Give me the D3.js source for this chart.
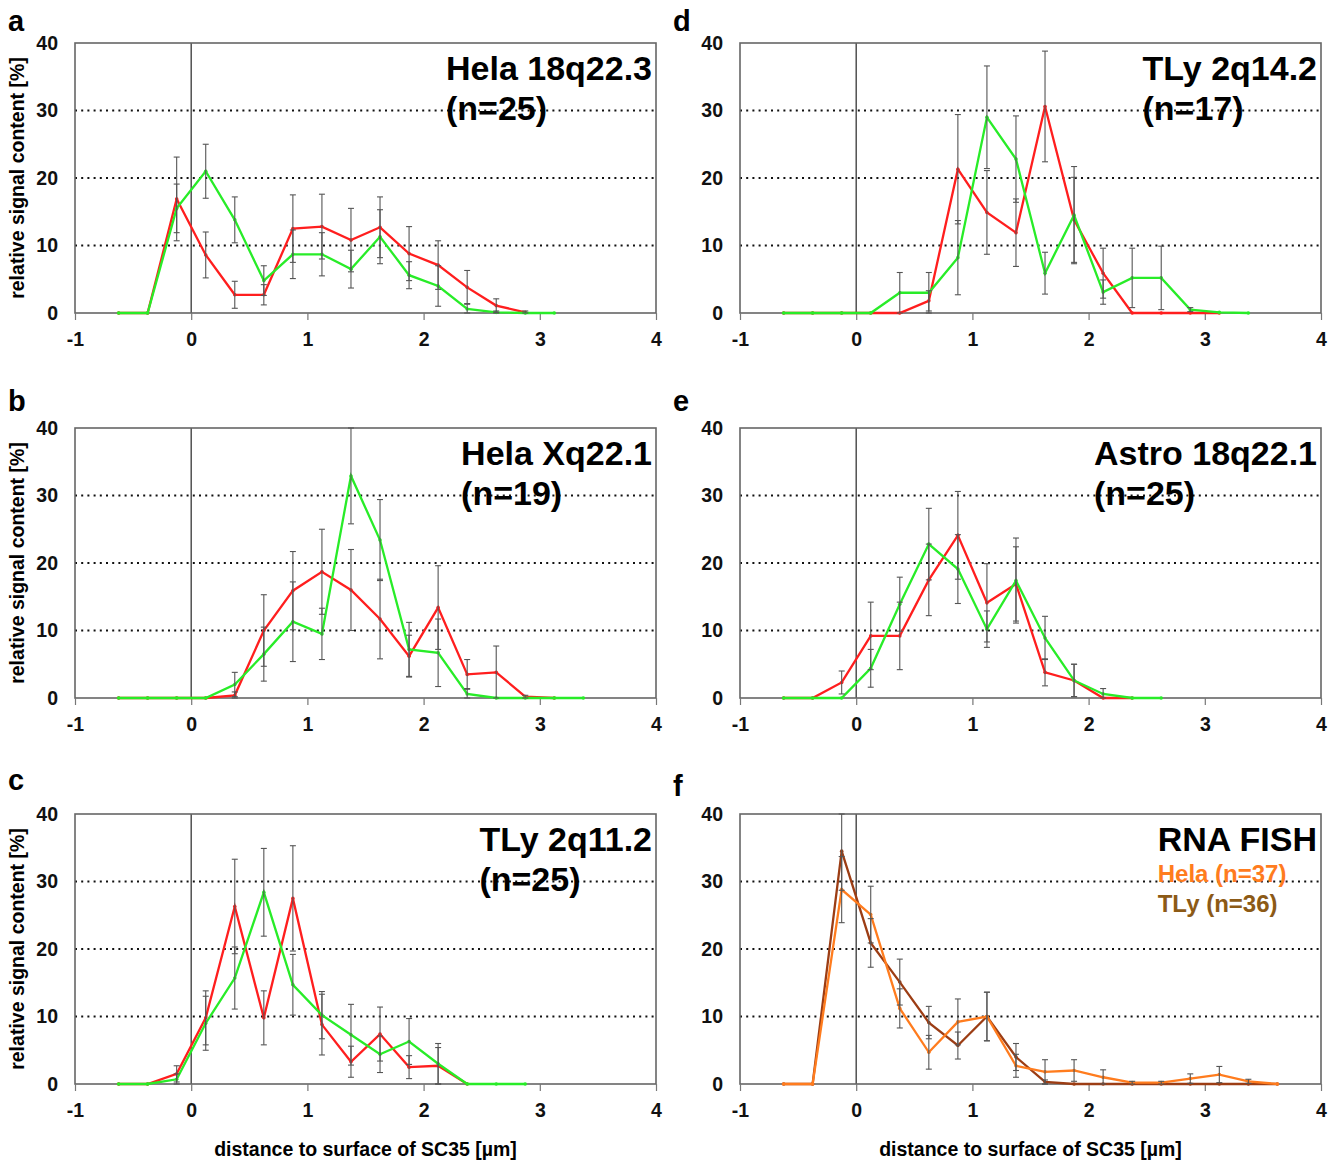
<!DOCTYPE html>
<html>
<head>
<meta charset="utf-8">
<script src="https://cdn.jsdelivr.net/npm/d3@7"></script>
<style>
  body { margin: 0; background: #fff; }
  text { font-family: "Liberation Sans", Arial, sans-serif; font-weight: bold; }
</style>
</head>
<body>
<div id="container"></div>
<script>
const width = 1336;
const height = 1161;

// bin centres (µm) shared by all panels
const xBins = [-0.625, -0.375, -0.125, 0.125, 0.375, 0.625, 0.875, 1.125, 1.375,
               1.625, 1.875, 2.125, 2.375, 2.625, 2.875, 3.125, 3.375, 3.625];
const xTicks = [-1, 0, 1, 2, 3, 4];
const yTicks = [0, 10, 20, 30, 40];
const gridTicks = [10, 20, 30];

// a: Hela 18q22.3
const aRed      = [0, 0, 16.9, 8.6, 2.7, 2.7, 12.5, 12.8, 10.8, 12.7, 8.8, 7.1, 3.8, 1.1, 0.1];
const aRedErr   = [0, 0, 6.2, 3.4, 2.0, 1.5, 5.0, 4.8, 4.7, 4.5, 4.0, 3.6, 2.5, 1.0, 0.2];
const aGreen    = [0, 0, 15.5, 21.0, 13.8, 4.8, 8.7, 8.7, 6.5, 11.3, 5.6, 4.0, 0.6, 0.1, 0, 0];
const aGreenErr = [0, 0, 3.6, 4.0, 3.4, 2.2, 3.6, 3.2, 2.8, 4.0, 2.0, 3.0, 0.8, 0.2, 0, 0];

// b: Hela Xq22.1
const bRed      = [0, 0, 0, 0, 0.4, 10.0, 15.9, 18.7, 16.0, 11.7, 6.2, 13.4, 3.5, 3.8, 0.2, 0];
const bRedErr   = [0, 0, 0, 0, 0.5, 5.3, 5.8, 6.3, 6.0, 5.9, 3.1, 6.2, 2.2, 3.9, 0.2, 0];
const bGreen    = [0, 0, 0, 0, 2.0, 6.5, 11.3, 9.5, 32.9, 23.4, 7.2, 6.7, 0.6, 0, 0, 0, 0];
const bGreenErr = [0, 0, 0, 0, 1.8, 4.0, 5.9, 3.8, 7.1, 6.0, 4.0, 5.0, 0.8, 0, 0, 0, 0];

// c: TLy 2q11.2
const cRed      = [0, 0, 1.5, 9.8, 26.3, 9.8, 27.5, 8.8, 3.3, 7.4, 2.5, 2.7, 0];
const cRedErr   = [0, 0, 1.2, 4.0, 7.0, 4.0, 7.8, 4.5, 2.3, 4.0, 1.7, 2.7, 0];
const cGreen    = [0, 0, 0.7, 9.0, 15.7, 28.4, 14.7, 10.2, 7.3, 4.4, 6.3, 3.0, 0, 0, 0];
const cGreenErr = [0, 0, 0.8, 4.0, 4.6, 6.5, 4.5, 3.5, 4.5, 2.7, 3.4, 3.0, 0, 0, 0];

// d: TLy 2q14.2
const dRed      = [0, 0, 0, 0, 0, 1.8, 21.3, 14.9, 11.9, 30.6, 13.8, 5.9, 0, 0, 0, 0];
const dRedErr   = [0, 0, 0, 0, 0, 1.5, 8.1, 6.2, 5.0, 8.2, 6.3, 3.7, 0, 0, 0, 0];
const dGreen    = [0, 0, 0, 0, 3.0, 3.0, 8.2, 29.0, 22.8, 5.9, 14.5, 3.1, 5.2, 5.2, 0.5, 0.1, 0];
const dGreenErr = [0, 0, 0, 0, 3.0, 3.0, 5.5, 7.6, 6.4, 3.1, 7.2, 1.8, 4.4, 4.7, 0.3, 0, 0];

// e: Astro 18q22.1
const eRed      = [0, 0, 2.3, 9.2, 9.2, 17.5, 24.1, 14.1, 16.9, 3.8, 2.6, 0, 0];
const eRedErr   = [0, 0, 1.7, 5.0, 5.0, 5.3, 6.5, 5.8, 5.5, 2.0, 2.4, 0, 0];
const eGreen    = [0, 0, 0, 4.4, 13.9, 22.8, 19.1, 10.2, 17.4, 8.9, 2.6, 0.6, 0, 0];
const eGreenErr = [0, 0, 0, 2.8, 4.0, 5.3, 5.1, 2.7, 6.3, 3.2, 2.4, 0.8, 0, 0];

// f: RNA FISH
const fHela     = [0, 0, 28.8, 25.1, 11.2, 4.7, 9.2, 10.0, 2.7, 1.8, 2.0, 1.0, 0.2, 0.2, 0.8, 1.4, 0.4, 0];
const fHelaErr  = [0, 0, 4.9, 4.2, 2.9, 2.5, 3.4, 3.6, 1.7, 1.8, 1.6, 1.1, 0.2, 0.2, 0.7, 1.2, 0.3, 0];
const fTLy      = [0, 0, 34.5, 20.9, 15.1, 9.1, 5.7, 10.0, 4.0, 0.3, 0, 0, 0, 0, 0, 0, 0, 0];
const fTLyErr   = [0, 0, 5.8, 3.6, 3.4, 2.4, 2.0, 3.6, 2.0, 0.3, 0.1, 0, 0, 0, 0, 0, 0, 0];

const red = "#ff1e1e";
const green = "#28ec28";
const orange = "#ff7c1e";
const brown = "#9c3d14";
const brownText = "#8c5a16";

const panels = [
  {letter: "a", col: 0, row: 0, title: "Hela 18q22.3", sub: [{t: "(n=25)", c: "#000"}],
   series: [{v: aRed, e: aRedErr, c: red}, {v: aGreen, e: aGreenErr, c: green}]},
  {letter: "b", col: 0, row: 1, title: "Hela Xq22.1", sub: [{t: "(n=19)", c: "#000"}],
   series: [{v: bRed, e: bRedErr, c: red}, {v: bGreen, e: bGreenErr, c: green}]},
  {letter: "c", col: 0, row: 2, title: "TLy 2q11.2", sub: [{t: "(n=25)", c: "#000"}],
   series: [{v: cRed, e: cRedErr, c: red}, {v: cGreen, e: cGreenErr, c: green}]},
  {letter: "d", col: 1, row: 0, title: "TLy 2q14.2", sub: [{t: "(n=17)", c: "#000"}],
   series: [{v: dRed, e: dRedErr, c: red}, {v: dGreen, e: dGreenErr, c: green}]},
  {letter: "e", col: 1, row: 1, title: "Astro 18q22.1", sub: [{t: "(n=25)", c: "#000"}],
   series: [{v: eRed, e: eRedErr, c: red}, {v: eGreen, e: eGreenErr, c: green}]},
  {letter: "f", col: 1, row: 2, title: "RNA FISH", sub: [{t: "Hela (n=37)", c: orange}, {t: "TLy (n=36)", c: brownText}], small: true,
   series: [{v: fTLy, e: fTLyErr, c: brown}, {v: fHela, e: fHelaErr, c: orange}]}
];

const colLeft = [75, 740];
const rowTop = [43, 428, 814];
const letterY = [31, 411, 790];
const plotW = 581;
const plotH = 270;

const svg = d3.select("#container")
              .append("svg")
              .attr("width", width)
              .attr("height", height)
              .style("background", "#fff");

panels.forEach((p) => {
  const left = colLeft[p.col];
  const top = rowTop[p.row];
  const x = d3.scaleLinear().domain([-1, 4]).range([0, plotW]);
  const y = d3.scaleLinear().domain([0, 40]).range([plotH, 0]);

  // panel letter
  svg.append("text")
     .attr("x", left - 67)
     .attr("y", letterY[p.row] + (p.letter === "f" ? 6 : 0))
     .style("font-size", "29px")
     .text(p.letter);

  const g = svg.append("g").attr("transform", "translate(" + left + "," + top + ")");

  // dotted grid
  g.selectAll(".grid")
   .data(gridTicks)
   .enter()
   .append("line")
   .attr("x1", 0).attr("x2", plotW)
   .attr("y1", d => y(d)).attr("y2", d => y(d))
   .attr("stroke", "#111")
   .attr("stroke-width", 2)
   .attr("stroke-dasharray", "2,4.2");

  // zero line
  g.append("line")
   .attr("x1", x(0)).attr("x2", x(0))
   .attr("y1", 0).attr("y2", plotH)
   .attr("stroke", "#444")
   .attr("stroke-width", 1.4);

  // frame
  g.append("rect")
   .attr("width", plotW).attr("height", plotH)
   .attr("fill", "none")
   .attr("stroke", "#666")
   .attr("stroke-width", 1.6);

  // x axis ticks + labels
  const xAxis = d3.axisBottom(x).tickValues(xTicks).tickSize(7).tickPadding(12).tickFormat(d => String(d));
  const xa = g.append("g").attr("transform", "translate(0," + plotH + ")").call(xAxis);
  xa.select(".domain").remove();
  xa.selectAll(".tick line").attr("stroke", "#777").attr("stroke-width", 1.2);
  xa.selectAll(".tick text")
    .attr("fill", "#111")
    .style("font-size", "19.5px")
    .style("font-family", "Liberation Sans, Arial, sans-serif")
    .style("font-weight", "bold");

  // y axis labels
  const yAxis = d3.axisLeft(y).tickValues(yTicks).tickSize(0).tickPadding(17);
  const ya = g.append("g").call(yAxis);
  ya.select(".domain").remove();
  ya.selectAll(".tick text")
    .attr("fill", "#111")
    .style("font-size", "19.5px")
    .style("font-family", "Liberation Sans, Arial, sans-serif")
    .style("font-weight", "bold");

  // series
  const line = d3.line().x((d, i) => x(xBins[i])).y(d => y(d));
  p.series.forEach((s) => {
    g.append("path")
     .datum(s.v)
     .attr("d", line)
     .attr("fill", "none")
     .attr("stroke", s.c)
     .attr("stroke-width", 2.3)
     .attr("stroke-linejoin", "miter");
    g.selectAll(null)
     .data(s.v)
     .enter()
     .append("circle")
     .attr("cx", (d, i) => x(xBins[i]))
     .attr("cy", d => y(d))
     .attr("r", 1.8)
     .attr("fill", s.c);
  });

  p.series.forEach((s) => {
    const eb = g.append("g").attr("stroke", "#555").attr("stroke-width", 1.1);
    s.e.forEach((err, i) => {
      if (err <= 0.15) return;
      const cx = x(xBins[i]);
      const y0 = y(Math.min(40, s.v[i] + err));
      const y1 = y(Math.max(0, s.v[i] - err));
      eb.append("line").attr("x1", cx).attr("x2", cx).attr("y1", y0).attr("y2", y1);
      eb.append("line").attr("x1", cx - 3).attr("x2", cx + 3).attr("y1", y0).attr("y2", y0);
      eb.append("line").attr("x1", cx - 3).attr("x2", cx + 3).attr("y1", y1).attr("y2", y1);
    });
  });

  // title block
  const title = g.append("text")
                 .attr("x", plotW - 4)
                 .attr("y", 37)
                 .attr("text-anchor", "end")
                 .style("font-size", "34px")
                 .text(p.title);
  const startX = plotW - 4 - title.node().getComputedTextLength();
  p.sub.forEach((sb, i) => {
    g.append("text")
     .attr("x", startX)
     .attr("y", p.small ? 68 + i * 30 : 77)
     .attr("fill", sb.c)
     .style("font-size", p.small ? "24px" : "34px")
     .text(sb.t);
  });

  // axis titles
  if (p.col === 0) {
    svg.append("text")
       .attr("transform", "translate(" + (left - 51) + "," + (top + plotH / 2) + ") rotate(-90)")
       .attr("text-anchor", "middle")
       .style("font-size", "19.5px")
       .text("relative signal content [%]");
  }
  if (p.row === 2) {
    svg.append("text")
       .attr("x", left + plotW / 2)
       .attr("y", top + plotH + 72)
       .attr("text-anchor", "middle")
       .style("font-size", "19.5px")
       .text("distance to surface of SC35 [µm]");
  }
});
</script>
</body>
</html>
